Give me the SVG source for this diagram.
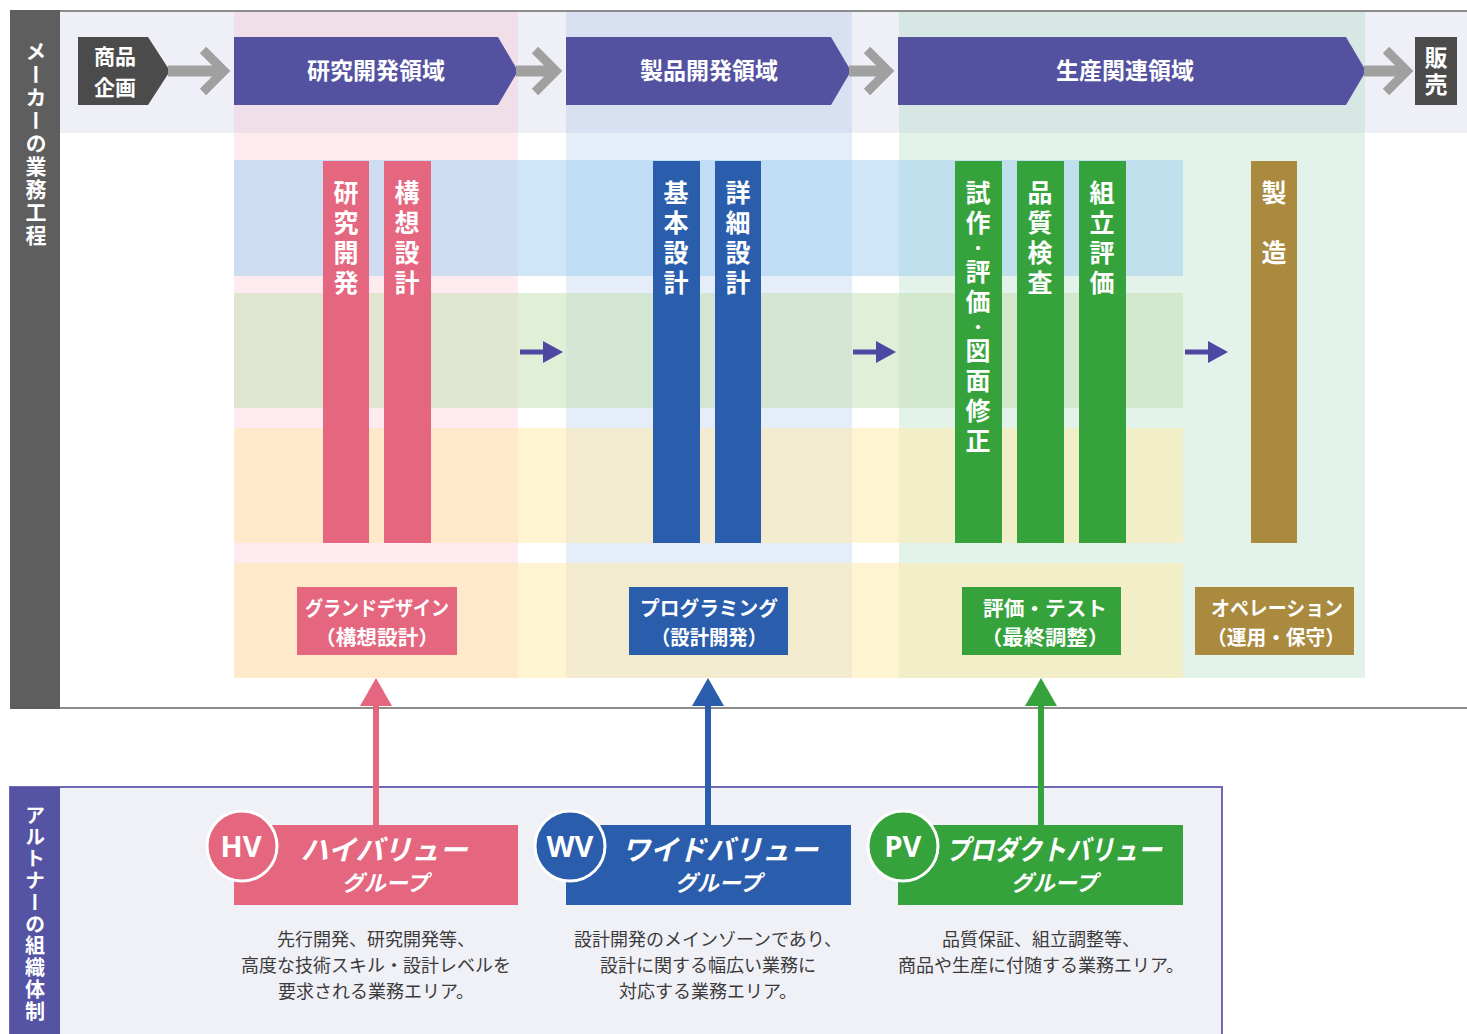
<svg xmlns="http://www.w3.org/2000/svg" width="1467" height="1034" viewBox="0 0 1467 1034">
<defs>
<style>
.jp{font-family:"Noto Sans CJK JP","Noto Sans",sans-serif;}
.wb{fill:#fff;font-weight:700;}
.hdr{font-size:23px;text-anchor:middle;}
.hdr2{font-size:21px;text-anchor:middle;}
.vbar{writing-mode:vertical-rl;font-size:25px;letter-spacing:5px;}
.dot{font-size:16px;letter-spacing:3px;}
.lbl{font-size:20px;text-anchor:middle;}
.grp1{font-size:28px;font-style:italic;text-anchor:middle;}
.grp2{font-size:22px;font-style:italic;text-anchor:middle;}
.desc{font-size:18px;fill:#3b3b3b;text-anchor:middle;}
.vt{writing-mode:vertical-rl;}
.badge{font-family:"Noto Sans","DejaVu Sans",sans-serif;font-size:29px;font-weight:700;fill:#fff;text-anchor:middle;}
.shaft{stroke:#a0a0a0;stroke-width:11;fill:none;}
.chev{stroke:#a0a0a0;stroke-width:9;fill:none;stroke-linejoin:miter;}
.pa{stroke:#4f48a3;stroke-width:5;}
.pah{fill:#4f48a3;}
.pink{fill:#e5677f;}
.blue{fill:#2a5eac;}
.green{fill:#35a23b;}
.brown{fill:#a98a3f;}
.purple{fill:#5351a0;}
.dark{fill:#4b4b4b;}
.bandB{fill:#9ecdf1;opacity:0.5;}
.bandG{fill:#c2dfb0;opacity:0.5;}
.bandY{fill:#ffe9a6;opacity:0.5;}
</style>
</defs>
<rect x="0" y="0" width="1467" height="1034" fill="#fff"/>

<!-- maker process frame -->
<g id="maker-frame">
<rect x="60" y="12" width="1407" height="121" fill="#efeff7"/>
<rect x="234" y="12" width="284" height="666" fill="#f5a3b5" opacity="0.22"/>
<rect x="566" y="12" width="286" height="666" fill="#7ea7e0" opacity="0.2"/>
<rect x="899" y="12" width="466" height="666" fill="#8fd0ad" opacity="0.25"/>
<rect x="234" y="160" width="949" height="116" class="bandB"/>
<rect x="234" y="293" width="949" height="115" class="bandG"/>
<rect x="234" y="428" width="949" height="115" class="bandY"/>
<rect x="234" y="563" width="949" height="115" class="bandY"/>
<line x1="10" y1="11" x2="1467" y2="11" stroke="#8c8c8c" stroke-width="2"/>
<line x1="10" y1="708" x2="1467" y2="708" stroke="#8c8c8c" stroke-width="2"/>
<rect x="10" y="10" width="50" height="699" fill="#5e5e5e"/>
<text class="jp wb vt" x="36" y="41" font-size="21" letter-spacing="2">メーカーの業務工程</text>
</g>

<!-- header flow -->
<g id="node-shohin-kikaku">
<polygon class="dark" points="78,37 148,37 170,71 148,105 78,105"/>
<text class="jp wb hdr2" x="115" y="64">商品</text>
<text class="jp wb hdr2" x="115" y="95">企画</text>
</g>
<g id="node-kenkyu-ryoiki">
<polygon class="purple" points="234,37 498,37 518,71 498,105 234,105"/>
<text class="jp wb hdr" x="376" y="79">研究開発領域</text>
</g>
<g id="node-seihin-ryoiki">
<polygon class="purple" points="566,37 831,37 851,71 831,105 566,105"/>
<text class="jp wb hdr" x="709" y="79">製品開発領域</text>
</g>
<g id="node-seisan-ryoiki">
<polygon class="purple" points="898,37 1346,37 1366,71 1346,105 898,105"/>
<text class="jp wb hdr" x="1125" y="79">生産関連領域</text>
</g>
<g id="node-hanbai">
<rect class="dark" x="1415" y="37" width="42" height="68"/>
<text class="jp wb vt" x="1436" y="46" style="font-size:23px;letter-spacing:4px">販売</text>
</g>

<!-- process bars -->
<g id="node-kenkyu-kaihatsu">
<rect class="pink" x="323" y="161" width="46" height="382"/>
<text class="jp wb vbar" x="346" y="180">研究開発</text>
</g>
<g id="node-koso-sekkei">
<rect class="pink" x="384" y="161" width="47" height="382"/>
<text class="jp wb vbar" x="407" y="180">構想設計</text>
</g>
<g id="node-kihon-sekkei">
<rect class="blue" x="653" y="161" width="47" height="382"/>
<text class="jp wb vbar" x="676" y="180">基本設計</text>
</g>
<g id="node-shosai-sekkei">
<rect class="blue" x="715" y="161" width="46" height="382"/>
<text class="jp wb vbar" x="738" y="180">詳細設計</text>
</g>
<g id="node-shisaku">
<rect class="green" x="955" y="161" width="47" height="382"/>
<text class="jp wb vbar" x="978" y="180">試作<tspan class="dot">・</tspan>評価<tspan class="dot">・</tspan>図面修正</text>
</g>
<g id="node-hinshitsu">
<rect class="green" x="1017" y="161" width="47" height="382"/>
<text class="jp wb vbar" x="1040" y="180">品質検査</text>
</g>
<g id="node-kumitate">
<rect class="green" x="1079" y="161" width="47" height="382"/>
<text class="jp wb vbar" x="1102" y="180">組立評価</text>
</g>
<g id="node-seizo">
<rect class="brown" x="1251" y="161" width="46" height="382"/>
<text class="jp wb vbar" x="1274" y="180" style="letter-spacing:35px">製造</text>
</g>

<!-- phase labels -->
<g id="node-grand-design">
<rect class="pink" x="297" y="587" width="160" height="68"/>
<text class="jp wb lbl" x="377" y="616" textLength="144" lengthAdjust="spacingAndGlyphs">グランドデザイン</text>
<text class="jp wb lbl" x="377" y="645" textLength="124" lengthAdjust="spacingAndGlyphs">（構想設計）</text>
</g>
<g id="node-programming">
<rect class="blue" x="629" y="587" width="159" height="68"/>
<text class="jp wb lbl" x="709" y="616" textLength="138" lengthAdjust="spacingAndGlyphs">プログラミング</text>
<text class="jp wb lbl" x="709" y="645" textLength="116" lengthAdjust="spacingAndGlyphs">（設計開発）</text>
</g>
<g id="node-hyoka-test">
<rect class="green" x="962" y="587" width="159" height="68"/>
<text class="jp wb lbl" x="1045" y="616" textLength="124" lengthAdjust="spacingAndGlyphs">評価・テスト</text>
<text class="jp wb lbl" x="1045" y="645" textLength="128" lengthAdjust="spacingAndGlyphs">（最終調整）</text>
</g>
<g id="node-operation">
<rect class="brown" x="1195" y="587" width="159" height="68"/>
<text class="jp wb lbl" x="1277" y="616" textLength="132" lengthAdjust="spacingAndGlyphs">オペレーション</text>
<text class="jp wb lbl" x="1276" y="645" textLength="138" lengthAdjust="spacingAndGlyphs">（運用・保守）</text>
</g>

<!-- partner frame -->
<g id="partner-frame">
<rect x="10" y="787" width="1212" height="262" fill="#f0f0f7" stroke="#6e6ab8" stroke-width="2"/>
<rect x="10" y="787" width="50" height="247" fill="#5553a3"/>
<text class="jp wb vt" x="35" y="805" font-size="20" letter-spacing="1.8">アルトナーの組織体制</text>
</g>

<!-- connectors -->
<g id="connectors">
<line class="shaft" x1="168" y1="71" x2="222" y2="71"/>
<polyline class="chev" points="203,50 224,71 203,92"/>
<line class="shaft" x1="516" y1="71" x2="554" y2="71"/>
<polyline class="chev" points="535,50 556,71 535,92"/>
<line class="shaft" x1="849" y1="71" x2="886" y2="71"/>
<polyline class="chev" points="867,50 888,71 867,92"/>
<line class="shaft" x1="1364" y1="71" x2="1404" y2="71"/>
<polyline class="chev" points="1386,50 1407,71 1386,92"/>

<line class="pa" x1="520" y1="352" x2="546" y2="352"/>
<polygon class="pah" points="543,341 563,352 543,363"/>
<line class="pa" x1="853" y1="352" x2="879" y2="352"/>
<polygon class="pah" points="876,341 896,352 876,363"/>
<line class="pa" x1="1185" y1="352" x2="1211" y2="352"/>
<polygon class="pah" points="1208,341 1228,352 1208,363"/>

<line x1="376" y1="826" x2="376" y2="700" stroke="#e5677f" stroke-width="6"/>
<polygon class="pink" points="360,706 376,678 392,706"/>
<line x1="708" y1="826" x2="708" y2="700" stroke="#2a5eac" stroke-width="6"/>
<polygon class="blue" points="692,706 708,678 724,706"/>
<line x1="1041" y1="826" x2="1041" y2="700" stroke="#35a23b" stroke-width="6"/>
<polygon class="green" points="1025,706 1041,678 1057,706"/>
</g>

<!-- groups -->
<g id="node-hv">
<rect class="pink" x="234" y="825" width="284" height="80"/>
<circle class="pink" cx="242" cy="846" r="35" stroke="#fff" stroke-width="3"/>
<text class="badge" x="241" y="857">HV</text>
<text class="jp wb grp1" x="384" y="860">ハイバリュー</text>
<text class="jp wb grp2" x="385" y="891">グループ</text>
<text class="jp desc" x="376" y="946">先行開発、研究開発等、</text>
<text class="jp desc" x="376" y="972">高度な技術スキル・設計レベルを</text>
<text class="jp desc" x="376" y="998">要求される業務エリア。</text>
</g>
<g id="node-wv">
<rect class="blue" x="566" y="825" width="285" height="80"/>
<circle class="blue" cx="570" cy="846" r="35" stroke="#fff" stroke-width="3"/>
<text class="badge" x="570" y="857">WV</text>
<text class="jp wb grp1" x="720" y="860">ワイドバリュー</text>
<text class="jp wb grp2" x="718" y="891">グループ</text>
<text class="jp desc" x="708" y="946">設計開発のメインゾーンであり、</text>
<text class="jp desc" x="708" y="972">設計に関する幅広い業務に</text>
<text class="jp desc" x="708" y="998">対応する業務エリア。</text>
</g>
<g id="node-pv">
<rect class="green" x="898" y="825" width="285" height="80"/>
<circle class="green" cx="903" cy="846" r="35" stroke="#fff" stroke-width="3"/>
<text class="badge" x="903" y="857">PV</text>
<text class="jp wb grp1" x="1054" y="860" textLength="216" lengthAdjust="spacingAndGlyphs">プロダクトバリュー</text>
<text class="jp wb grp2" x="1054" y="891">グループ</text>
<text class="jp desc" x="1041" y="946">品質保証、組立調整等、</text>
<text class="jp desc" x="1041" y="972">商品や生産に付随する業務エリア。</text>
</g>
</svg>
